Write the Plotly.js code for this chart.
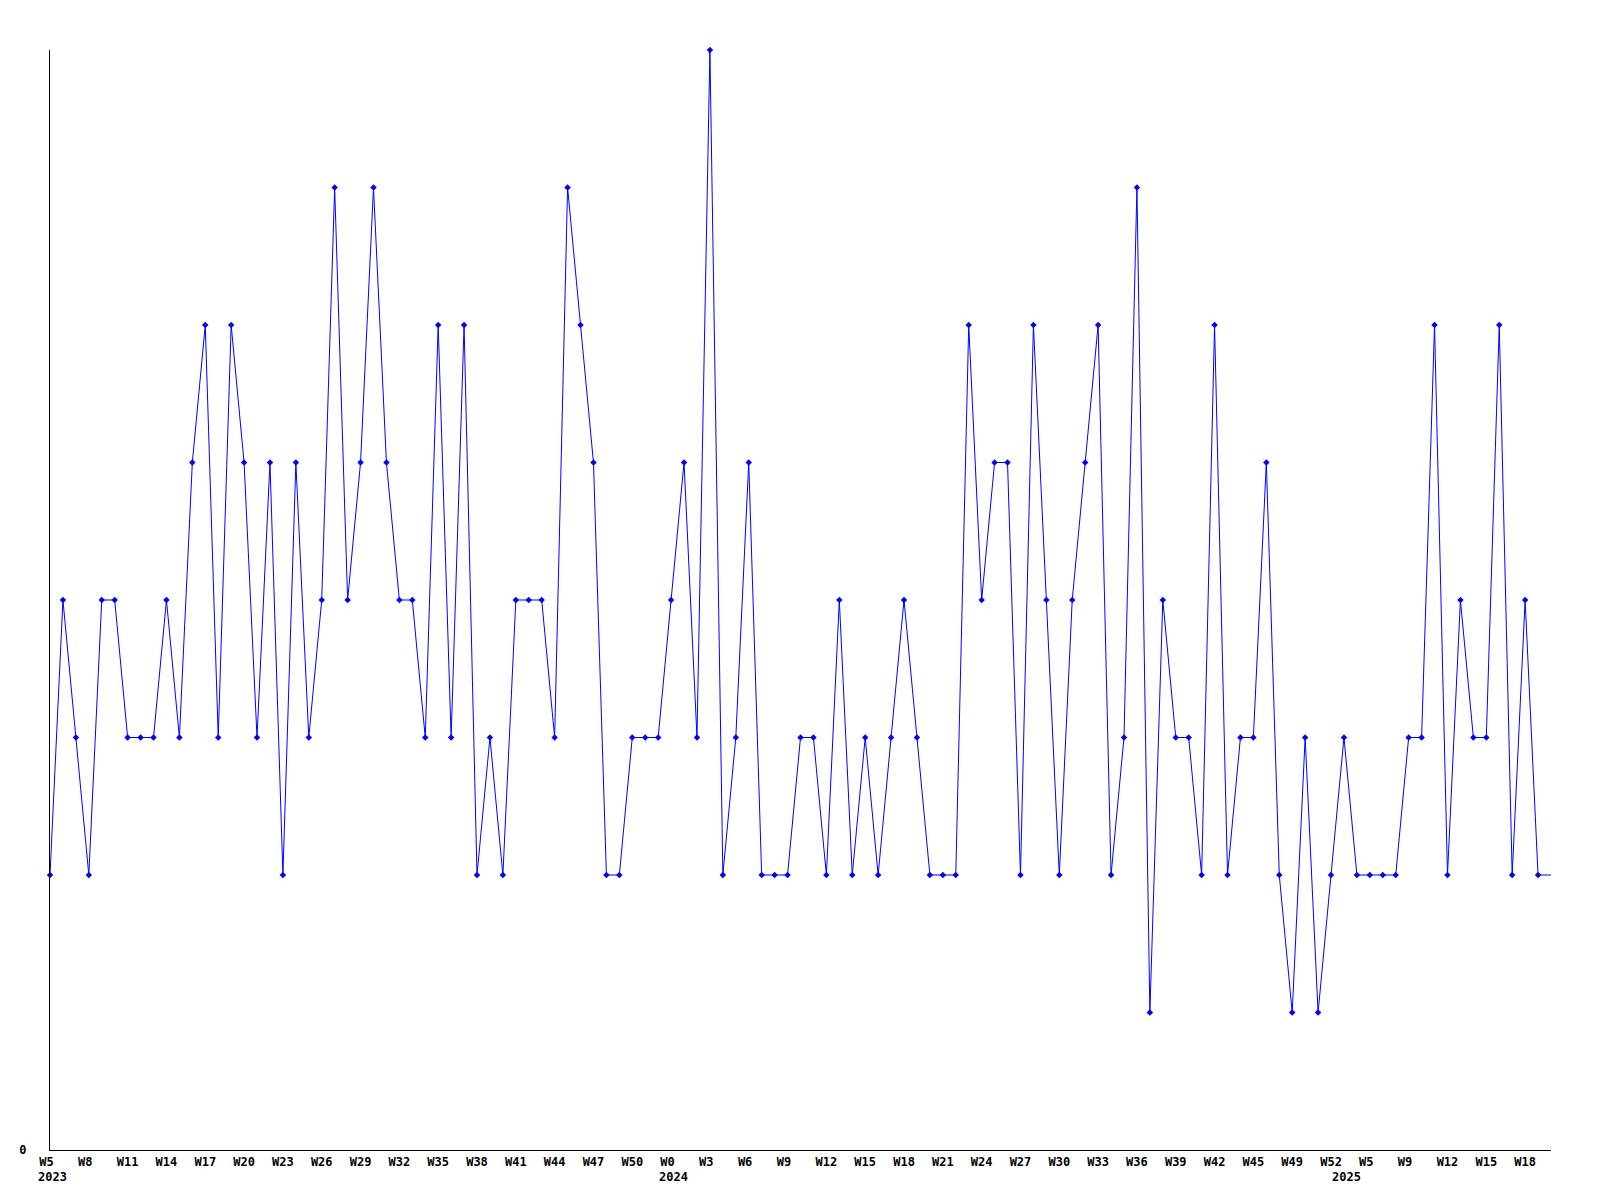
<!DOCTYPE html>
<html>
<head>
<meta charset="utf-8">
<script src="https://cdn.plot.ly/plotly-3.0.1.min.js"></script>
<style>
  html, body { margin: 0; padding: 0; background: #ffffff; }
  #chart { width: 1600px; height: 1200px; }
</style>
</head>
<body>
<div id="chart"></div>
<script>
// Weekly values (one point per week, 2023 W5 onwards)
const values = [
  2,4,3,2,4,4,3,3,3,4,3,5,6,3,6,5,3,5,2,5,3,4,7,4,5,7,5,4,4,3,
  6,3,6,2,3,2,4,4,4,3,7,6,5,2,2,3,3,3,4,5,3,8,2,3,5,2,2,2,3,3,
  2,4,2,3,2,3,4,3,2,2,2,6,4,5,5,2,6,4,2,4,5,6,2,3,7,1,4,3,3,2,
  6,2,3,3,5,2,1,3,1,2,3,2,2,2,2,3,3,6,2,4,3,3,6,2,4,2,2
];

// Tick labels, one every third week
const weekLabels = [
  'W5','W8','W11','W14','W17','W20','W23','W26','W29','W32','W35','W38','W41','W44','W47','W50',
  'W0','W3','W6','W9','W12','W15','W18','W21','W24','W27','W30','W33','W36','W39','W42','W45','W49','W52',
  'W5','W9','W12','W15','W18'
];

const yearLabels = ['2023', '2024', '2025'];

const xs = values.map((_, i) => i);
const tickStep = 3;
const tickvals = weekLabels.map((_, k) => k * tickStep);
const ticktext = weekLabels.map(s => s.length < 3 ? s + '\u00a0' : s);

const font = { family: '"DejaVu Sans Mono", "Liberation Mono", monospace', size: 12, color: '#000000' };

const lineTrace = {
  x: xs,
  y: values,
  type: 'scatter',
  mode: 'lines',
  line: { color: '#0000ff', width: 1 },
  hoverinfo: 'skip',
  cliponaxis: false,
  showlegend: false
};

const markerTrace = {
  x: xs.slice(0, -1),
  y: values.slice(0, -1),
  type: 'scatter',
  mode: 'markers',
  marker: { color: '#0000ff', symbol: 'diamond', size: 5, line: { width: 0 } },
  cliponaxis: false,
  showlegend: false
};

const yearX = [0.2, 48.2, 100.2];
const annotations = yearLabels.map((t, i) => ({
  x: yearX[i], xref: 'x',
  y: 0, yref: 'paper',
  yanchor: 'top', xanchor: 'center',
  yshift: -18,
  showarrow: false,
  text: '<b>' + t + '</b>',
  font: font
}));

const layout = {
  width: 1600,
  height: 1200,
  margin: { l: 50, r: 49, t: 50, b: 50, pad: 0 },
  paper_bgcolor: '#ffffff',
  plot_bgcolor: '#ffffff',
  font: font,
  showlegend: false,
  xaxis: {
    range: [0, values.length - 1],
    tickmode: 'array',
    tickvals: tickvals,
    ticktext: ticktext.map(t => '<b>' + t + '</b>'),
    ticks: 'outside',
    ticklen: 1,
    tickcolor: 'rgba(0,0,0,0)',
    showgrid: false,
    zeroline: false,
    showline: true,
    linecolor: '#000000',
    linewidth: 1,
    tickangle: 0,
    tickfont: font
  },
  yaxis: {
    range: [0, 8],
    tickmode: 'array',
    tickvals: [0],
    ticktext: ['<b>0</b>'],
    ticks: 'outside',
    ticklen: 20,
    tickcolor: 'rgba(0,0,0,0)',
    showgrid: false,
    zeroline: false,
    showline: true,
    linecolor: '#000000',
    linewidth: 1,
    tickfont: font
  },
  annotations: annotations
};

Plotly.newPlot('chart', [lineTrace, markerTrace], layout, { displayModeBar: false, staticPlot: true });
</script>
</body>
</html>
